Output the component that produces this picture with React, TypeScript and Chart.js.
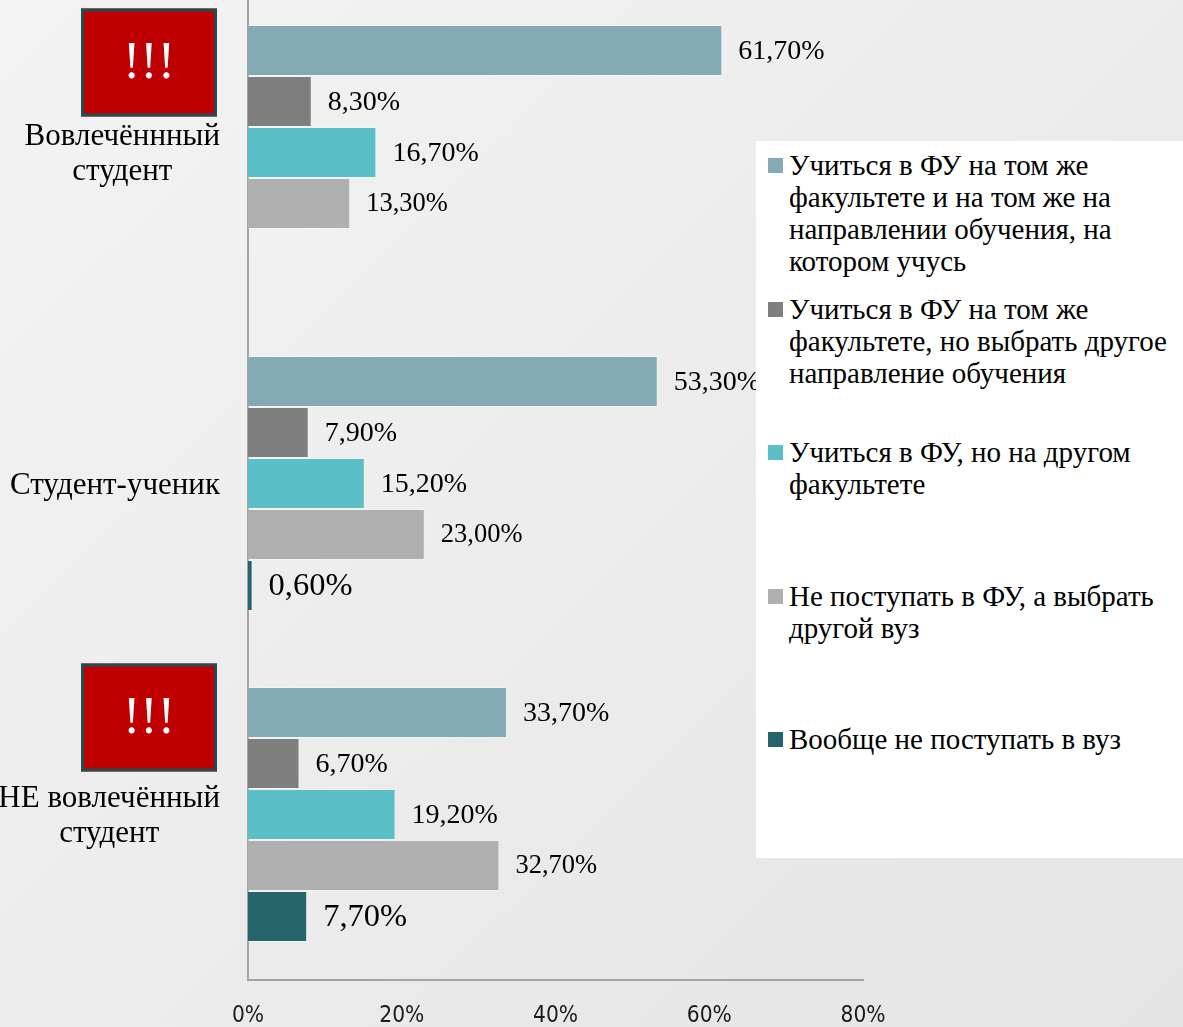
import React, { useEffect, useRef } from "react";
import { Chart, registerables } from "chart.js";

Chart.register(...registerables);

// ---------- data ----------
const categories: string[][] = [
  ["Вовлечённный", "студент"],
  ["Студент-ученик"],
  ["НЕ вовлечённый", "студент"],
];

const seriesNames: string[] = [
  "Учиться в ФУ на том же факультете и на том же на направлении обучения, на котором учусь",
  "Учиться в ФУ на том же факультете, но выбрать другое направление обучения",
  "Учиться в ФУ, но на другом факультете",
  "Не поступать в ФУ, а выбрать другой вуз",
  "Вообще не поступать в вуз",
];

const sameFacultySameProgram: (number | null)[] = [61.7, 53.3, 33.7];
const sameFacultyOtherProgram: (number | null)[] = [8.3, 7.9, 6.7];
const otherFaculty: (number | null)[] = [16.7, 15.2, 19.2];
const otherUniversity: (number | null)[] = [13.3, 23.0, 32.7];
const noUniversity: (number | null)[] = [null, 0.6, 7.7];

const xTickValues: number[] = [0, 20, 40, 60, 80];

const flaggedCategories: number[] = [0, 2];
const flagText = "!!!";

// ---------- styles ----------
const seriesColors = ["#84abb5", "#7f7f7f", "#5bbfc7", "#afafaf", "#25646a"];
const labelFontSizes = [28, 28, 28, 26.5, 32.5];
const flagOffsets = [-90, -97];
const SERIF = '"Liberation Serif", "Times New Roman", serif';
const NARROW = '"DejaVu Sans Condensed", "Liberation Sans", sans-serif';

const formatPct = (v: number) => v.toFixed(2).replace(".", ",") + "%";

const dataLabelPlugin = {
  id: "dataLabels",
  afterDatasetsDraw(chart: any) {
    const ctx = chart.ctx;
    ctx.save();
    ctx.fillStyle = "#000";
    ctx.textAlign = "left";
    ctx.textBaseline = "middle";
    chart.data.datasets.forEach((ds: any, di: number) => {
      const meta = chart.getDatasetMeta(di);
      meta.data.forEach((bar: any, i: number) => {
        const v = ds.data[i];
        if (v == null) return;
        ctx.font = `${labelFontSizes[di]}px ${SERIF}`;
        ctx.fillText(formatPct(v), bar.x + 16, bar.y + 1);
      });
    });
    ctx.restore();
  },
};

const categoryLabelPlugin = {
  id: "categoryLabels",
  afterDraw(chart: any) {
    const ctx = chart.ctx;
    const y = chart.scales.y;
    const rightEdge = y.right - 28;
    const lineH = 35;
    ctx.save();
    ctx.fillStyle = "#000";
    ctx.textAlign = "center";
    ctx.textBaseline = "middle";
    ctx.font = `31px ${SERIF}`;
    (chart.data.labels as string[][]).forEach((lines, i) => {
      const cy = y.getPixelForValue(i) + 2;
      const maxW = Math.max(...lines.map((l) => ctx.measureText(l).width));
      const cx = rightEdge - maxW / 2;
      lines.forEach((l, k) => {
        ctx.fillText(l, cx, cy + (k - (lines.length - 1) / 2) * lineH);
      });
    });
    // flags
    flaggedCategories.forEach((ci, fi) => {
      const cy = y.getPixelForValue(ci) + flagOffsets[fi];
      const w = 136;
      const h = 108;
      const x0 = rightEdge - 3 - w;
      const y0 = cy - h / 2;
      ctx.fillStyle = "#c00000";
      ctx.fillRect(x0, y0, w, h);
      ctx.strokeStyle = "#1f4e52";
      ctx.lineWidth = 3;
      ctx.strokeRect(x0 + 1.5, y0 + 1.5, w - 3, h - 3);
      ctx.fillStyle = "#fff";
      ctx.font = `52px ${SERIF}`;
      ctx.fillText(flagText, x0 + w / 2, cy + 2);
    });
    ctx.restore();
  },
};

export default function App() {
  const ref = useRef<HTMLCanvasElement>(null);

  useEffect(() => {
    if (!ref.current) return;
    const seriesData = [
      sameFacultySameProgram,
      sameFacultyOtherProgram,
      otherFaculty,
      otherUniversity,
      noUniversity,
    ];
    const chart = new Chart(ref.current, {
      type: "bar",
      data: {
        labels: categories as any,
        datasets: seriesData.map((d, i) => ({
          label: seriesNames[i],
          data: d as any,
          backgroundColor: seriesColors[i],
          borderColor: "rgba(255,255,255,0.3)",
          borderWidth: 1,
          categoryPercentage: 0.77,
          barPercentage: 1,
        })),
      },
      options: {
        indexAxis: "y",
        responsive: false,
        animation: false,
        layout: { padding: { top: 7, right: 320, left: 0, bottom: 0 } },
        plugins: { legend: { display: false }, tooltip: { enabled: false } },
        scales: {
          x: {
            min: xTickValues[0],
            max: xTickValues[xTickValues.length - 1],
            afterBuildTicks: (s: any) => {
              s.ticks = xTickValues.map((v) => ({ value: v }));
            },
            ticks: {
              callback: (v: any) => v + "%",
              font: { family: NARROW, size: 22.5 },
              color: "#1a1a1a",
              padding: 23,
              maxRotation: 0,
              autoSkip: false,
            },
            grid: { display: false, drawTicks: false },
            border: { display: true, color: "#a3a3a3", width: 2 },
            afterFit: (s: any) => {
              s.height = 47;
            },
          },
          y: {
            ticks: { display: false },
            grid: { display: false, drawTicks: false },
            border: { display: true, color: "#a3a3a3", width: 2 },
            afterFit: (s: any) => {
              s.width = 248;
            },
          },
        },
      } as any,
      plugins: [dataLabelPlugin, categoryLabelPlugin],
    });
    return () => chart.destroy();
  }, []);

  return (
    <div
      style={{
        position: "fixed",
        left: 0,
        top: 0,
        width: 1183,
        height: 1027,
        overflow: "hidden",
        background: "linear-gradient(135deg, #f3f3f3 0%, #ececec 50%, #e4e4e4 100%)",
      }}
    >
      <canvas
        ref={ref}
        width={1183}
        height={1047}
        style={{ position: "absolute", left: 0, top: -20, width: 1183, height: 1047 }}
      />
      <div
        style={{
          position: "absolute",
          left: 756,
          top: 141,
          width: 427,
          height: 717,
          background: "#fff",
          paddingTop: 8,
          boxSizing: "border-box",
        }}
      >
        {seriesNames.map((n, i) => (
          <div key={i} style={{ display: "flex", alignItems: "flex-start", height: 143.5 }}>
            <span
              style={{
                width: 15,
                height: 15,
                background: seriesColors[i],
                marginLeft: 12,
                marginTop: 9,
                flex: "none",
              }}
            />
            <span
              style={{
                marginLeft: 6,
                width: 394,
                font: `29px/32px ${SERIF}`,
                color: "#000",
              }}
            >
              {n}
            </span>
          </div>
        ))}
      </div>
    </div>
  );
}
